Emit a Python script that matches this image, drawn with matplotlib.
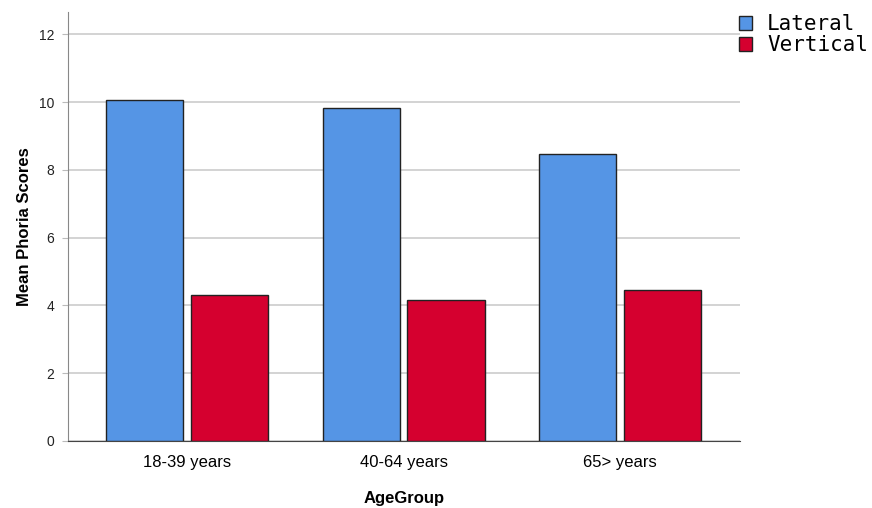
import matplotlib.pyplot as plt
import numpy as np

groups = ['18-39 years', '40-64 years', '65> years']
lateral = [10.05, 9.82, 8.46]
vertical = [4.30, 4.16, 4.45]
series_names = ['Lateral', 'Vertical']
yticks = [0, 2, 4, 6, 8, 10, 12]

BLUE = '#5595e5'
RED = '#d5002f'

plt.rcParams['font.family'] = ['Liberation Sans', 'DejaVu Sans']

fig = plt.figure(figsize=(8.72, 5.08), dpi=100)
ax = fig.add_axes([0.078, 0.132, 0.7706, 0.844])

x = np.arange(len(groups))
w = 0.356
off = 0.196
b1 = ax.bar(x - off, lateral, w, color=BLUE, edgecolor='#222222', linewidth=1, zorder=3,
            label=series_names[0])
b2 = ax.bar(x + off, vertical, w, color=RED, edgecolor='#222222', linewidth=1, zorder=3,
            label=series_names[1])

ax.set_xlim(-0.55, 2.554)
ax.set_ylim(0, 12.65)
ax.set_yticks(yticks)
ax.set_xticks(x)
ax.set_xticklabels(groups, fontsize=12)
ax.tick_params(axis='y', labelsize=10, length=4, color='#bbbbbb', pad=6, labelcolor='#222222')
ax.tick_params(axis='x', length=0, pad=10)
ax.grid(axis='y', color='#cccccc', linewidth=1.2, zorder=0)

for s in ['top', 'right']:
    ax.spines[s].set_visible(False)
ax.spines['left'].set_color('#888888')
ax.spines['bottom'].set_color('#444444')

ax.set_ylabel('Mean Phoria Scores', fontsize=12, fontweight='bold', labelpad=5)
ax.set_xlabel('AgeGroup', fontsize=12, fontweight='bold', labelpad=15)

ax.legend(handles=[b1, b2], loc='upper left', bbox_to_anchor=(0.848, 0.972),
          bbox_transform=fig.transFigure, frameon=False, borderpad=0, borderaxespad=0,
          handlelength=0.62, handleheight=0.62, handletextpad=0.7, labelspacing=0.05,
          prop={'family': 'DejaVu Sans Mono', 'size': 15})

fig.savefig('out.png', dpi=100)
